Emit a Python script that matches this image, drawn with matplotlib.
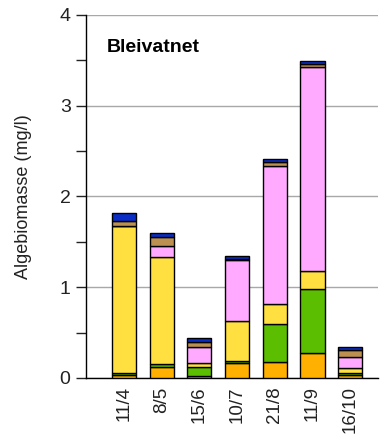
import numpy as np
import matplotlib
matplotlib.use("Agg")
import matplotlib.pyplot as plt
from matplotlib.ticker import MultipleLocator

plt.rcParams['font.family'] = ['Liberation Sans', 'DejaVu Sans']

dates = ['11/4', '8/5', '15/6', '10/7', '21/8', '11/9', '16/10']

# algae groups, bottom to top (mg/l)
orange = [0.03, 0.12, 0.02, 0.16, 0.18, 0.27, 0.03]
green = [0.02, 0.03, 0.10, 0.03, 0.41, 0.71, 0.03]
yellow = [1.625, 1.18, 0.05, 0.44, 0.22, 0.195, 0.055]
pink = [0.0, 0.12, 0.17, 0.67, 1.52, 2.25, 0.12]
brown = [0.05, 0.105, 0.06, 0.01, 0.045, 0.036, 0.077]
blue = [0.09, 0.037, 0.04, 0.03, 0.036, 0.03, 0.03]

series = [orange, green, yellow, pink, brown, blue]
colors = ['#FFB000', '#5CBE00', '#FFE040', '#FFAAFF', '#BB9050', '#0A2DC8']

fig = plt.figure(figsize=(3.8, 4.38), dpi=100)
ax = fig.add_axes([0.226, 0.137, 0.769, 0.829])

x = np.arange(len(dates))
bottom = np.zeros(len(dates))
for vals, col in zip(series, colors):
    vals = np.array(vals)
    ax.bar(x, vals, width=0.64, bottom=bottom, color=col,
           edgecolor='black', linewidth=1.0, zorder=3)
    bottom += vals

ax.set_xlim(-1.01, 6.74)
ax.set_ylim(0, 4)
ax.set_yticks([0, 1, 2, 3, 4])
ax.yaxis.set_minor_locator(MultipleLocator(0.5))
ax.yaxis.grid(True, which='major', color='#a8a8a8', linewidth=1.0, zorder=0)
ax.set_xticks(x)
ax.set_xticklabels(dates, rotation=90, fontsize=13.5, color='#222222')
ax.tick_params(axis='x', length=0, pad=6)
ax.tick_params(axis='y', which='both', labelsize=14, length=7, width=1.0,
               colors='#222222', pad=4)
for s in ['top', 'right']:
    ax.spines[s].set_visible(False)
ax.spines['left'].set_linewidth(1.0)
ax.spines['bottom'].set_linewidth(1.0)
ax.set_ylabel('Algebiomasse (mg/l)', fontsize=13, color='#222222')
ax.yaxis.set_label_coords(-0.185, 0.5)
ax.text(0.072, 0.909, 'Bleivatnet', transform=ax.transAxes, fontsize=14,
        fontweight='bold', va='center', ha='left')

fig.savefig('out.png', dpi=100)
